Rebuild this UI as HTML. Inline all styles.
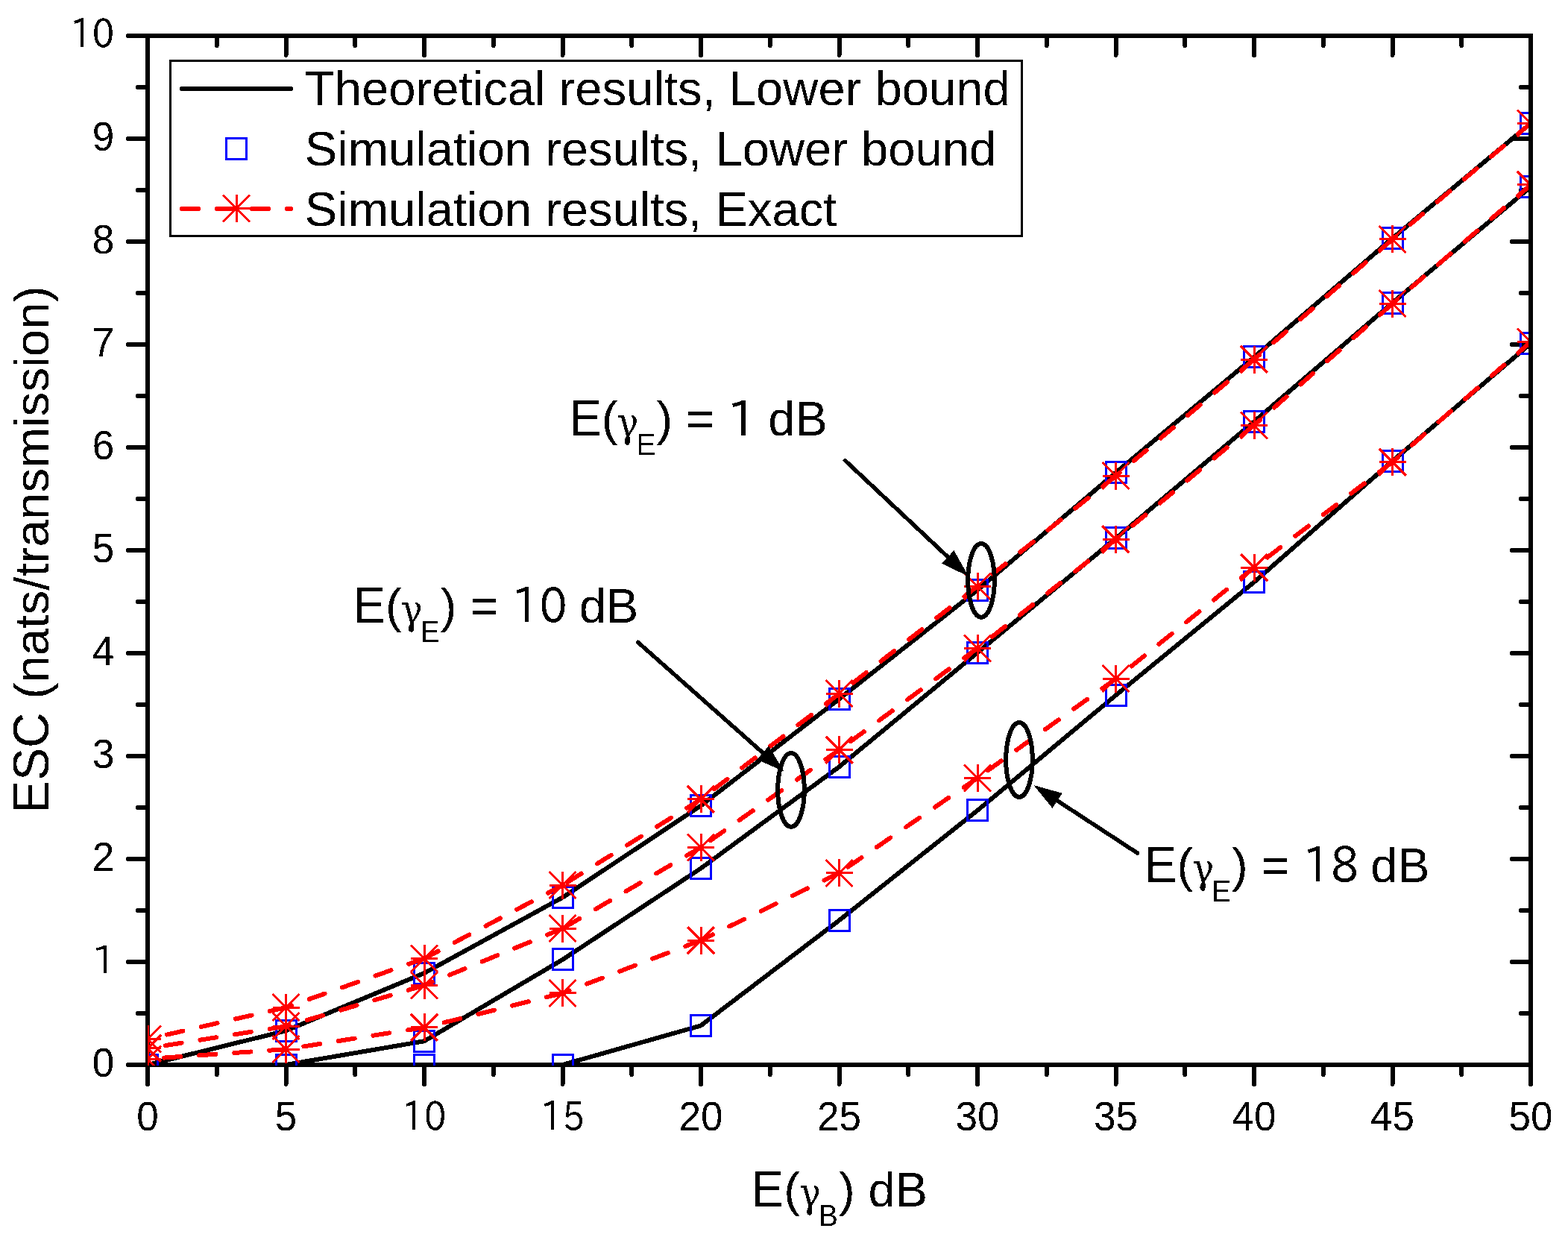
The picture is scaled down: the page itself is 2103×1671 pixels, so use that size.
<!DOCTYPE html>
<html><head><meta charset="utf-8"><title>ESC vs E(gamma_B)</title>
<style>html,body{margin:0;padding:0;background:#fff;} svg{display:block;}</style></head>
<body>
<svg width="2103" height="1671" viewBox="0 0 2103 1671" shape-rendering="crispEdges">
<defs><filter id="al" x="-20%" y="-20%" width="140%" height="140%"><feComponentTransfer><feFuncA type="discrete" tableValues="0 1"/></feComponentTransfer></filter></defs>
<rect width="2103" height="1671" fill="#fff"/>
<g stroke="#000" stroke-width="6" fill="none" stroke-linecap="round">
<line x1="172" y1="1428" x2="198" y2="1428"/>
<line x1="2053" y1="1428" x2="2028" y2="1428"/>
<line x1="185" y1="1359" x2="198" y2="1359"/>
<line x1="2053" y1="1359" x2="2040" y2="1359"/>
<line x1="172" y1="1290" x2="198" y2="1290"/>
<line x1="2053" y1="1290" x2="2028" y2="1290"/>
<line x1="185" y1="1221" x2="198" y2="1221"/>
<line x1="2053" y1="1221" x2="2040" y2="1221"/>
<line x1="172" y1="1152" x2="198" y2="1152"/>
<line x1="2053" y1="1152" x2="2028" y2="1152"/>
<line x1="185" y1="1083" x2="198" y2="1083"/>
<line x1="2053" y1="1083" x2="2040" y2="1083"/>
<line x1="172" y1="1014" x2="198" y2="1014"/>
<line x1="2053" y1="1014" x2="2028" y2="1014"/>
<line x1="185" y1="945" x2="198" y2="945"/>
<line x1="2053" y1="945" x2="2040" y2="945"/>
<line x1="172" y1="876" x2="198" y2="876"/>
<line x1="2053" y1="876" x2="2028" y2="876"/>
<line x1="185" y1="807" x2="198" y2="807"/>
<line x1="2053" y1="807" x2="2040" y2="807"/>
<line x1="172" y1="738" x2="198" y2="738"/>
<line x1="2053" y1="738" x2="2028" y2="738"/>
<line x1="185" y1="669" x2="198" y2="669"/>
<line x1="2053" y1="669" x2="2040" y2="669"/>
<line x1="172" y1="600" x2="198" y2="600"/>
<line x1="2053" y1="600" x2="2028" y2="600"/>
<line x1="185" y1="531" x2="198" y2="531"/>
<line x1="2053" y1="531" x2="2040" y2="531"/>
<line x1="172" y1="462" x2="198" y2="462"/>
<line x1="2053" y1="462" x2="2028" y2="462"/>
<line x1="185" y1="393" x2="198" y2="393"/>
<line x1="2053" y1="393" x2="2040" y2="393"/>
<line x1="172" y1="324" x2="198" y2="324"/>
<line x1="2053" y1="324" x2="2028" y2="324"/>
<line x1="185" y1="255" x2="198" y2="255"/>
<line x1="2053" y1="255" x2="2040" y2="255"/>
<line x1="172" y1="186" x2="198" y2="186"/>
<line x1="2053" y1="186" x2="2028" y2="186"/>
<line x1="185" y1="117" x2="198" y2="117"/>
<line x1="2053" y1="117" x2="2040" y2="117"/>
<line x1="172" y1="48" x2="198" y2="48"/>
<line x1="2053" y1="48" x2="2028" y2="48"/>
<line x1="198" y1="1428" x2="198" y2="1454"/>
<line x1="198" y1="48" x2="198" y2="74"/>
<line x1="290.75" y1="1428" x2="290.75" y2="1441"/>
<line x1="290.75" y1="48" x2="290.75" y2="61"/>
<line x1="383.5" y1="1428" x2="383.5" y2="1454"/>
<line x1="383.5" y1="48" x2="383.5" y2="74"/>
<line x1="476.25" y1="1428" x2="476.25" y2="1441"/>
<line x1="476.25" y1="48" x2="476.25" y2="61"/>
<line x1="569" y1="1428" x2="569" y2="1454"/>
<line x1="569" y1="48" x2="569" y2="74"/>
<line x1="661.75" y1="1428" x2="661.75" y2="1441"/>
<line x1="661.75" y1="48" x2="661.75" y2="61"/>
<line x1="754.5" y1="1428" x2="754.5" y2="1454"/>
<line x1="754.5" y1="48" x2="754.5" y2="74"/>
<line x1="847.25" y1="1428" x2="847.25" y2="1441"/>
<line x1="847.25" y1="48" x2="847.25" y2="61"/>
<line x1="940" y1="1428" x2="940" y2="1454"/>
<line x1="940" y1="48" x2="940" y2="74"/>
<line x1="1032.75" y1="1428" x2="1032.75" y2="1441"/>
<line x1="1032.75" y1="48" x2="1032.75" y2="61"/>
<line x1="1125.5" y1="1428" x2="1125.5" y2="1454"/>
<line x1="1125.5" y1="48" x2="1125.5" y2="74"/>
<line x1="1218.25" y1="1428" x2="1218.25" y2="1441"/>
<line x1="1218.25" y1="48" x2="1218.25" y2="61"/>
<line x1="1311" y1="1428" x2="1311" y2="1454"/>
<line x1="1311" y1="48" x2="1311" y2="74"/>
<line x1="1403.75" y1="1428" x2="1403.75" y2="1441"/>
<line x1="1403.75" y1="48" x2="1403.75" y2="61"/>
<line x1="1496.5" y1="1428" x2="1496.5" y2="1454"/>
<line x1="1496.5" y1="48" x2="1496.5" y2="74"/>
<line x1="1589.25" y1="1428" x2="1589.25" y2="1441"/>
<line x1="1589.25" y1="48" x2="1589.25" y2="61"/>
<line x1="1682" y1="1428" x2="1682" y2="1454"/>
<line x1="1682" y1="48" x2="1682" y2="74"/>
<line x1="1774.75" y1="1428" x2="1774.75" y2="1441"/>
<line x1="1774.75" y1="48" x2="1774.75" y2="61"/>
<line x1="1867.5" y1="1428" x2="1867.5" y2="1454"/>
<line x1="1867.5" y1="48" x2="1867.5" y2="74"/>
<line x1="1960.25" y1="1428" x2="1960.25" y2="1441"/>
<line x1="1960.25" y1="48" x2="1960.25" y2="61"/>
<line x1="2053" y1="1428" x2="2053" y2="1454"/>
<line x1="2053" y1="48" x2="2053" y2="74"/>
</g>
<rect x="198" y="48" width="1855" height="1380" fill="none" stroke="#000" stroke-width="6"/>
<text filter="url(#al)" font-family="'Liberation Sans', Arial, sans-serif" font-size="53" style="white-space:pre"><tspan x="123.82" y="1443.6" font-size="55.12" textLength="29.48" lengthAdjust="spacingAndGlyphs">0</tspan></text>
<text filter="url(#al)" font-family="'Liberation Sans', Arial, sans-serif" font-size="53" style="white-space:pre"><tspan x="123.13" y="1306.11" font-family="IPAPGothic, IPAGothic, 'Liberation Sans', sans-serif" font-size="52.25">1</tspan></text>
<text filter="url(#al)" font-family="'Liberation Sans', Arial, sans-serif" font-size="53" style="white-space:pre"><tspan x="123.82" y="1167.6" font-size="55.12" textLength="29.48" lengthAdjust="spacingAndGlyphs">2</tspan></text>
<text filter="url(#al)" font-family="'Liberation Sans', Arial, sans-serif" font-size="53" style="white-space:pre"><tspan x="123.82" y="1029.6" font-size="55.12" textLength="29.48" lengthAdjust="spacingAndGlyphs">3</tspan></text>
<text filter="url(#al)" font-family="'Liberation Sans', Arial, sans-serif" font-size="53" style="white-space:pre"><tspan x="123.82" y="891.6" font-size="55.12" textLength="29.48" lengthAdjust="spacingAndGlyphs">4</tspan></text>
<text filter="url(#al)" font-family="'Liberation Sans', Arial, sans-serif" font-size="53" style="white-space:pre"><tspan x="123.82" y="753.6" font-size="55.12" textLength="29.48" lengthAdjust="spacingAndGlyphs">5</tspan></text>
<text filter="url(#al)" font-family="'Liberation Sans', Arial, sans-serif" font-size="53" style="white-space:pre"><tspan x="123.82" y="615.6" font-size="55.12" textLength="29.48" lengthAdjust="spacingAndGlyphs">6</tspan></text>
<text filter="url(#al)" font-family="'Liberation Sans', Arial, sans-serif" font-size="53" style="white-space:pre"><tspan x="123.82" y="477.6" font-size="55.12" textLength="29.48" lengthAdjust="spacingAndGlyphs">7</tspan></text>
<text filter="url(#al)" font-family="'Liberation Sans', Arial, sans-serif" font-size="53" style="white-space:pre"><tspan x="123.82" y="339.6" font-size="55.12" textLength="29.48" lengthAdjust="spacingAndGlyphs">8</tspan></text>
<text filter="url(#al)" font-family="'Liberation Sans', Arial, sans-serif" font-size="53" style="white-space:pre"><tspan x="123.82" y="201.6" font-size="55.12" textLength="29.48" lengthAdjust="spacingAndGlyphs">9</tspan></text>
<text filter="url(#al)" font-family="'Liberation Sans', Arial, sans-serif" font-size="53" style="white-space:pre"><tspan x="94.35" y="63.6" font-family="IPAPGothic, IPAGothic, 'Liberation Sans', sans-serif" font-size="52.47" textLength="58.95" lengthAdjust="spacingAndGlyphs">10</tspan></text>
<text filter="url(#al)" font-family="'Liberation Sans', Arial, sans-serif" font-size="53" style="white-space:pre"><tspan x="183.26" y="1515.5" font-size="55.12" textLength="29.48" lengthAdjust="spacingAndGlyphs">0</tspan></text>
<text filter="url(#al)" font-family="'Liberation Sans', Arial, sans-serif" font-size="53" style="white-space:pre"><tspan x="368.76" y="1515.5" font-size="55.12" textLength="29.48" lengthAdjust="spacingAndGlyphs">5</tspan></text>
<text filter="url(#al)" font-family="'Liberation Sans', Arial, sans-serif" font-size="53" style="white-space:pre"><tspan x="539.52" y="1515.5" font-family="IPAPGothic, IPAGothic, 'Liberation Sans', sans-serif" font-size="52.47" textLength="58.95" lengthAdjust="spacingAndGlyphs">10</tspan></text>
<text filter="url(#al)" font-family="'Liberation Sans', Arial, sans-serif" font-size="53" style="white-space:pre"><tspan x="725.02" y="1515.5" font-family="IPAPGothic, IPAGothic, 'Liberation Sans', sans-serif" font-size="52.47" textLength="58.95" lengthAdjust="spacingAndGlyphs">15</tspan></text>
<text filter="url(#al)" font-family="'Liberation Sans', Arial, sans-serif" font-size="53" style="white-space:pre"><tspan x="910.52" y="1515.5" font-size="55.12" textLength="58.95" lengthAdjust="spacingAndGlyphs">20</tspan></text>
<text filter="url(#al)" font-family="'Liberation Sans', Arial, sans-serif" font-size="53" style="white-space:pre"><tspan x="1096.02" y="1515.5" font-size="55.12" textLength="58.95" lengthAdjust="spacingAndGlyphs">25</tspan></text>
<text filter="url(#al)" font-family="'Liberation Sans', Arial, sans-serif" font-size="53" style="white-space:pre"><tspan x="1281.52" y="1515.5" font-size="55.12" textLength="58.95" lengthAdjust="spacingAndGlyphs">30</tspan></text>
<text filter="url(#al)" font-family="'Liberation Sans', Arial, sans-serif" font-size="53" style="white-space:pre"><tspan x="1467.02" y="1515.5" font-size="55.12" textLength="58.95" lengthAdjust="spacingAndGlyphs">35</tspan></text>
<text filter="url(#al)" font-family="'Liberation Sans', Arial, sans-serif" font-size="53" style="white-space:pre"><tspan x="1652.52" y="1515.5" font-size="55.12" textLength="58.95" lengthAdjust="spacingAndGlyphs">40</tspan></text>
<text filter="url(#al)" font-family="'Liberation Sans', Arial, sans-serif" font-size="53" style="white-space:pre"><tspan x="1838.02" y="1515.5" font-size="55.12" textLength="58.95" lengthAdjust="spacingAndGlyphs">45</tspan></text>
<text filter="url(#al)" font-family="'Liberation Sans', Arial, sans-serif" font-size="53" style="white-space:pre"><tspan x="2023.52" y="1515.5" font-size="55.12" textLength="58.95" lengthAdjust="spacingAndGlyphs">50</tspan></text>
<defs><clipPath id="cp"><rect x="198" y="40" width="1852" height="1389"/></clipPath>
</defs>
<g clip-path="url(#cp)">
<polyline points="198,1428 383.5,1382.32 569,1305.04 754.5,1203.61 940,1080.52 1125.5,937.41 1311,791.27 1496.5,633.81 1682,478.97 1867.5,319.58 2053,165.44" fill="none" stroke="#000" stroke-width="6" stroke-linejoin="round"/>
<polyline points="198,1428 383.5,1428 569,1396.26 754.5,1286.96 940,1164.56 1125.5,1028.35 1311,875.17 1496.5,721.99 1682,565.36 1867.5,406.11 2053,250.58" fill="none" stroke="#000" stroke-width="6" stroke-linejoin="round"/>
<polyline points="198,1428 383.5,1428 569,1428 754.5,1428 940,1375.42 1125.5,1234.25 1311,1086.86 1496.5,932.44 1682,780.64 1867.5,618.35 2053,460.62" fill="none" stroke="#000" stroke-width="6" stroke-linejoin="round"/>
<rect x="184.5" y="1414" width="27" height="28" fill="none" stroke="#00f" stroke-width="3"/>
<rect x="370" y="1368.32" width="27" height="28" fill="none" stroke="#00f" stroke-width="3"/>
<rect x="555.5" y="1291.04" width="27" height="28" fill="none" stroke="#00f" stroke-width="3"/>
<rect x="741" y="1189.61" width="27" height="28" fill="none" stroke="#00f" stroke-width="3"/>
<rect x="926.5" y="1066.52" width="27" height="28" fill="none" stroke="#00f" stroke-width="3"/>
<rect x="1112" y="923.41" width="27" height="28" fill="none" stroke="#00f" stroke-width="3"/>
<rect x="1297.5" y="777.27" width="27" height="28" fill="none" stroke="#00f" stroke-width="3"/>
<rect x="1483" y="619.81" width="27" height="28" fill="none" stroke="#00f" stroke-width="3"/>
<rect x="1668.5" y="464.97" width="27" height="28" fill="none" stroke="#00f" stroke-width="3"/>
<rect x="1854" y="305.58" width="27" height="28" fill="none" stroke="#00f" stroke-width="3"/>
<rect x="2039.5" y="151.44" width="27" height="28" fill="none" stroke="#00f" stroke-width="3"/>
<rect x="184.5" y="1414" width="27" height="28" fill="none" stroke="#00f" stroke-width="3"/>
<rect x="370" y="1414" width="27" height="28" fill="none" stroke="#00f" stroke-width="3"/>
<rect x="555.5" y="1382.26" width="27" height="28" fill="none" stroke="#00f" stroke-width="3"/>
<rect x="741" y="1272.96" width="27" height="28" fill="none" stroke="#00f" stroke-width="3"/>
<rect x="926.5" y="1150.56" width="27" height="28" fill="none" stroke="#00f" stroke-width="3"/>
<rect x="1112" y="1014.35" width="27" height="28" fill="none" stroke="#00f" stroke-width="3"/>
<rect x="1297.5" y="861.17" width="27" height="28" fill="none" stroke="#00f" stroke-width="3"/>
<rect x="1483" y="707.99" width="27" height="28" fill="none" stroke="#00f" stroke-width="3"/>
<rect x="1668.5" y="551.36" width="27" height="28" fill="none" stroke="#00f" stroke-width="3"/>
<rect x="1854" y="392.11" width="27" height="28" fill="none" stroke="#00f" stroke-width="3"/>
<rect x="2039.5" y="236.58" width="27" height="28" fill="none" stroke="#00f" stroke-width="3"/>
<rect x="184.5" y="1414" width="27" height="28" fill="none" stroke="#00f" stroke-width="3"/>
<rect x="370" y="1414" width="27" height="28" fill="none" stroke="#00f" stroke-width="3"/>
<rect x="555.5" y="1414" width="27" height="28" fill="none" stroke="#00f" stroke-width="3"/>
<rect x="741" y="1414" width="27" height="28" fill="none" stroke="#00f" stroke-width="3"/>
<rect x="926.5" y="1361.42" width="27" height="28" fill="none" stroke="#00f" stroke-width="3"/>
<rect x="1112" y="1220.25" width="27" height="28" fill="none" stroke="#00f" stroke-width="3"/>
<rect x="1297.5" y="1072.86" width="27" height="28" fill="none" stroke="#00f" stroke-width="3"/>
<rect x="1483" y="918.44" width="27" height="28" fill="none" stroke="#00f" stroke-width="3"/>
<rect x="1668.5" y="766.64" width="27" height="28" fill="none" stroke="#00f" stroke-width="3"/>
<rect x="1854" y="604.35" width="27" height="28" fill="none" stroke="#00f" stroke-width="3"/>
<rect x="2039.5" y="446.62" width="27" height="28" fill="none" stroke="#00f" stroke-width="3"/>
<g fill="none" stroke="#f00" stroke-width="6" stroke-linecap="round" stroke-dasharray="22.2 25">
<path d="M383.5,1351L198,1393.5"/>
<path d="M569,1285.45L383.5,1351"/>
<path d="M754.5,1187.19L569,1285.45"/>
<path d="M940,1071.96L754.5,1187.19"/>
<path d="M1125.5,930.23L940,1071.96"/>
<path d="M1311,786.16L1125.5,930.23"/>
<path d="M1496.5,638.36L1311,786.16"/>
<path d="M1682,482.01L1496.5,638.36"/>
<path d="M1867.5,320.96L1682,482.01"/>
<path d="M2053,165.44L1867.5,320.96"/>
<path d="M383.5,1376.39L198,1405.92"/>
<path d="M569,1321.46L383.5,1376.39"/>
<path d="M754.5,1245.29L569,1321.46"/>
<path d="M940,1136.27L754.5,1245.29"/>
<path d="M1125.5,1005.58L940,1136.27"/>
<path d="M1311,869.24L1125.5,1005.58"/>
<path d="M1496.5,723.51L1311,869.24"/>
<path d="M1682,570.19L1496.5,723.51"/>
<path d="M1867.5,407.35L1682,570.19"/>
<path d="M2053,247.96L1867.5,407.35"/>
<path d="M383.5,1407.16L198,1420.13"/>
<path d="M569,1377.91L383.5,1407.16"/>
<path d="M754.5,1331.95L569,1377.91"/>
<path d="M940,1261.02L754.5,1331.95"/>
<path d="M1125.5,1170.77L940,1261.02"/>
<path d="M1311,1043.26L1125.5,1170.77"/>
<path d="M1496.5,910.36L1311,1043.26"/>
<path d="M1682,761.05L1496.5,910.36"/>
<path d="M1867.5,619.6L1682,761.05"/>
<path d="M2053,458.55L1867.5,619.6"/>
</g>
<path d="M180,1393.5H216M198,1375V1412M180,1375.5L216,1411.5M180,1411.5L216,1375.5" stroke="#f00" stroke-width="3" fill="none"/>
<path d="M365.5,1351H401.5M383.5,1332.5V1369.5M365.5,1333L401.5,1369M365.5,1369L401.5,1333" stroke="#f00" stroke-width="3" fill="none"/>
<path d="M551,1285.45H587M569,1266.95V1303.95M551,1267.45L587,1303.45M551,1303.45L587,1267.45" stroke="#f00" stroke-width="3" fill="none"/>
<path d="M736.5,1187.19H772.5M754.5,1168.69V1205.69M736.5,1169.19L772.5,1205.19M736.5,1205.19L772.5,1169.19" stroke="#f00" stroke-width="3" fill="none"/>
<path d="M922,1071.96H958M940,1053.46V1090.46M922,1053.96L958,1089.96M922,1089.96L958,1053.96" stroke="#f00" stroke-width="3" fill="none"/>
<path d="M1107.5,930.23H1143.5M1125.5,911.73V948.73M1107.5,912.23L1143.5,948.23M1107.5,948.23L1143.5,912.23" stroke="#f00" stroke-width="3" fill="none"/>
<path d="M1293,786.16H1329M1311,767.66V804.66M1293,768.16L1329,804.16M1293,804.16L1329,768.16" stroke="#f00" stroke-width="3" fill="none"/>
<path d="M1478.5,638.36H1514.5M1496.5,619.86V656.86M1478.5,620.36L1514.5,656.36M1478.5,656.36L1514.5,620.36" stroke="#f00" stroke-width="3" fill="none"/>
<path d="M1664,482.01H1700M1682,463.51V500.51M1664,464.01L1700,500.01M1664,500.01L1700,464.01" stroke="#f00" stroke-width="3" fill="none"/>
<path d="M1849.5,320.96H1885.5M1867.5,302.46V339.46M1849.5,302.96L1885.5,338.96M1849.5,338.96L1885.5,302.96" stroke="#f00" stroke-width="3" fill="none"/>
<path d="M2035,165.44H2071M2053,146.94V183.94M2035,147.44L2071,183.44M2035,183.44L2071,147.44" stroke="#f00" stroke-width="3" fill="none"/>
<path d="M180,1405.92H216M198,1387.42V1424.42M180,1387.92L216,1423.92M180,1423.92L216,1387.92" stroke="#f00" stroke-width="3" fill="none"/>
<path d="M365.5,1376.39H401.5M383.5,1357.89V1394.89M365.5,1358.39L401.5,1394.39M365.5,1394.39L401.5,1358.39" stroke="#f00" stroke-width="3" fill="none"/>
<path d="M551,1321.46H587M569,1302.96V1339.96M551,1303.46L587,1339.46M551,1339.46L587,1303.46" stroke="#f00" stroke-width="3" fill="none"/>
<path d="M736.5,1245.29H772.5M754.5,1226.79V1263.79M736.5,1227.29L772.5,1263.29M736.5,1263.29L772.5,1227.29" stroke="#f00" stroke-width="3" fill="none"/>
<path d="M922,1136.27H958M940,1117.77V1154.77M922,1118.27L958,1154.27M922,1154.27L958,1118.27" stroke="#f00" stroke-width="3" fill="none"/>
<path d="M1107.5,1005.58H1143.5M1125.5,987.08V1024.08M1107.5,987.58L1143.5,1023.58M1107.5,1023.58L1143.5,987.58" stroke="#f00" stroke-width="3" fill="none"/>
<path d="M1293,869.24H1329M1311,850.74V887.74M1293,851.24L1329,887.24M1293,887.24L1329,851.24" stroke="#f00" stroke-width="3" fill="none"/>
<path d="M1478.5,723.51H1514.5M1496.5,705.01V742.01M1478.5,705.51L1514.5,741.51M1478.5,741.51L1514.5,705.51" stroke="#f00" stroke-width="3" fill="none"/>
<path d="M1664,570.19H1700M1682,551.69V588.69M1664,552.19L1700,588.19M1664,588.19L1700,552.19" stroke="#f00" stroke-width="3" fill="none"/>
<path d="M1849.5,407.35H1885.5M1867.5,388.85V425.85M1849.5,389.35L1885.5,425.35M1849.5,425.35L1885.5,389.35" stroke="#f00" stroke-width="3" fill="none"/>
<path d="M2035,247.96H2071M2053,229.46V266.46M2035,229.96L2071,265.96M2035,265.96L2071,229.96" stroke="#f00" stroke-width="3" fill="none"/>
<path d="M180,1420.13H216M198,1401.63V1438.63M180,1402.13L216,1438.13M180,1438.13L216,1402.13" stroke="#f00" stroke-width="3" fill="none"/>
<path d="M365.5,1407.16H401.5M383.5,1388.66V1425.66M365.5,1389.16L401.5,1425.16M365.5,1425.16L401.5,1389.16" stroke="#f00" stroke-width="3" fill="none"/>
<path d="M551,1377.91H587M569,1359.41V1396.41M551,1359.91L587,1395.91M551,1395.91L587,1359.91" stroke="#f00" stroke-width="3" fill="none"/>
<path d="M736.5,1331.95H772.5M754.5,1313.45V1350.45M736.5,1313.95L772.5,1349.95M736.5,1349.95L772.5,1313.95" stroke="#f00" stroke-width="3" fill="none"/>
<path d="M922,1261.02H958M940,1242.52V1279.52M922,1243.02L958,1279.02M922,1279.02L958,1243.02" stroke="#f00" stroke-width="3" fill="none"/>
<path d="M1107.5,1170.77H1143.5M1125.5,1152.27V1189.27M1107.5,1152.77L1143.5,1188.77M1107.5,1188.77L1143.5,1152.77" stroke="#f00" stroke-width="3" fill="none"/>
<path d="M1293,1043.26H1329M1311,1024.76V1061.76M1293,1025.26L1329,1061.26M1293,1061.26L1329,1025.26" stroke="#f00" stroke-width="3" fill="none"/>
<path d="M1478.5,910.36H1514.5M1496.5,891.86V928.86M1478.5,892.36L1514.5,928.36M1478.5,928.36L1514.5,892.36" stroke="#f00" stroke-width="3" fill="none"/>
<path d="M1664,761.05H1700M1682,742.55V779.55M1664,743.05L1700,779.05M1664,779.05L1700,743.05" stroke="#f00" stroke-width="3" fill="none"/>
<path d="M1849.5,619.6H1885.5M1867.5,601.1V638.1M1849.5,601.6L1885.5,637.6M1849.5,637.6L1885.5,601.6" stroke="#f00" stroke-width="3" fill="none"/>
<path d="M2035,458.55H2071M2053,440.05V477.05M2035,440.55L2071,476.55M2035,476.55L2071,440.55" stroke="#f00" stroke-width="3" fill="none"/>
</g>
<ellipse cx="1316" cy="778.3" rx="17.8" ry="49.4" fill="none" stroke="#000" stroke-width="6"/>
<ellipse cx="1061" cy="1059.4" rx="17.8" ry="49.4" fill="none" stroke="#000" stroke-width="6"/>
<ellipse cx="1367" cy="1018.9" rx="17.8" ry="50" fill="none" stroke="#000" stroke-width="6"/>
<line x1="1133.4" y1="617.5" x2="1272.76" y2="748.36" stroke="#000" stroke-width="5.5" stroke-linecap="round"/>
<polygon points="1299,773 1263.08,755.74 1279.51,738.24" fill="#000"/>
<line x1="855.6" y1="861.3" x2="1024.54" y2="1010.84" stroke="#000" stroke-width="5.5" stroke-linecap="round"/>
<polygon points="1051.5,1034.7 1015.09,1018.5 1031,1000.53" fill="#000"/>
<line x1="1525.4" y1="1144" x2="1416.43" y2="1072.71" stroke="#000" stroke-width="5.5" stroke-linecap="round"/>
<polygon points="1386.3,1053 1424.67,1063.76 1411.53,1083.85" fill="#000"/>
<text filter="url(#al)" font-family="'Liberation Sans', Arial, sans-serif" font-size="65.2" style="white-space:pre"><tspan x="763.3" y="584.3" font-size="67.81" textLength="43.49" lengthAdjust="spacingAndGlyphs">E</tspan><tspan x="806.79" y="584.3" font-size="65.2">(</tspan><tspan x="827.2" y="585.5" font-family="'DejaVu Serif', 'Liberation Serif', serif" font-size="54.9" textLength="29.2" lengthAdjust="spacingAndGlyphs">γ</tspan><tspan x="853.6" y="610.3" font-size="40.25" textLength="25.81" lengthAdjust="spacingAndGlyphs">E</tspan><tspan x="880.4" y="584.3" font-size="65">) = </tspan><tspan x="975.27" y="584.93" font-family="IPAPGothic, IPAGothic, 'Liberation Sans', sans-serif" font-size="64.09">1 </tspan><tspan x="1030.33" y="584.3" font-size="65">dB</tspan></text>
<text filter="url(#al)" font-family="'Liberation Sans', Arial, sans-serif" font-size="65.2" style="white-space:pre"><tspan x="473.6" y="835.4" font-size="67.81" textLength="43.49" lengthAdjust="spacingAndGlyphs">E</tspan><tspan x="517.09" y="835.4" font-size="65.2">(</tspan><tspan x="537.5" y="836.6" font-family="'DejaVu Serif', 'Liberation Serif', serif" font-size="54.9" textLength="29.2" lengthAdjust="spacingAndGlyphs">γ</tspan><tspan x="563.9" y="861.4" font-size="40.25" textLength="25.81" lengthAdjust="spacingAndGlyphs">E</tspan><tspan x="590.7" y="835.4" font-size="65">) = </tspan><tspan x="686.42" y="835.4" font-family="IPAPGothic, IPAGothic, 'Liberation Sans', sans-serif" font-size="64.35" textLength="90.36" lengthAdjust="spacingAndGlyphs">10 </tspan><tspan x="776.78" y="835.4" font-size="65">dB</tspan></text>
<text filter="url(#al)" font-family="'Liberation Sans', Arial, sans-serif" font-size="65.2" style="white-space:pre"><tspan x="1535" y="1182.5" font-size="67.81" textLength="43.49" lengthAdjust="spacingAndGlyphs">E</tspan><tspan x="1578.49" y="1182.5" font-size="65.2">(</tspan><tspan x="1598.9" y="1183.7" font-family="'DejaVu Serif', 'Liberation Serif', serif" font-size="54.9" textLength="29.2" lengthAdjust="spacingAndGlyphs">γ</tspan><tspan x="1625.3" y="1208.5" font-size="40.25" textLength="25.81" lengthAdjust="spacingAndGlyphs">E</tspan><tspan x="1652.1" y="1182.5" font-size="65">) = </tspan><tspan x="1747.82" y="1182.5" font-family="IPAPGothic, IPAGothic, 'Liberation Sans', sans-serif" font-size="64.35" textLength="90.36" lengthAdjust="spacingAndGlyphs">18 </tspan><tspan x="1838.18" y="1182.5" font-size="65">dB</tspan></text>
<text filter="url(#al)" font-family="'Liberation Sans', Arial, sans-serif" font-size="65.2" style="white-space:pre"><tspan x="1007.8" y="1617.7" font-size="67.81" textLength="43.49" lengthAdjust="spacingAndGlyphs">E</tspan><tspan x="1051.29" y="1617.7" font-size="65.2">(</tspan><tspan x="1071.7" y="1618.9" font-family="'DejaVu Serif', 'Liberation Serif', serif" font-size="54.9" textLength="29.2" lengthAdjust="spacingAndGlyphs">γ</tspan><tspan x="1098.1" y="1643.7" font-size="40.25" textLength="25.81" lengthAdjust="spacingAndGlyphs">B</tspan><tspan x="1124.9" y="1617.7" font-size="65">) dB</tspan></text>
<g transform="translate(65,737) rotate(-90)">
<text filter="url(#al)" font-family="'Liberation Sans', Arial, sans-serif" font-size="65.6" style="white-space:pre"><tspan x="-353.61" y="0" font-size="68.22" textLength="153.11" lengthAdjust="spacingAndGlyphs">ESC </tspan><tspan x="-200.5" y="0" font-size="65.6">(nats/transmission)</tspan></text>
</g>
<rect x="228" y="81.5" width="1142.5" height="235" fill="#fff" stroke="#000" stroke-width="3"/>
<line x1="244" y1="119" x2="390" y2="119" stroke="#000" stroke-width="6" stroke-linecap="round"/>
<rect x="303.5" y="185.5" width="27" height="28" fill="none" stroke="#00f" stroke-width="3"/>
<line x1="244" y1="280" x2="390" y2="280" stroke="#f00" stroke-width="6" stroke-linecap="round" stroke-dasharray="22 25"/>
<path d="M299,279.5H335M317,261V298M299,261.5L335,297.5M299,297.5L335,261.5" stroke="#f00" stroke-width="3" fill="none"/>
<text filter="url(#al)" font-family="'Liberation Sans', Arial, sans-serif" font-size="65.2" style="white-space:pre"><tspan x="409" y="140.8" font-size="65.2">Theoretical results, Lower bound</tspan></text>
<text filter="url(#al)" font-family="'Liberation Sans', Arial, sans-serif" font-size="65.2" style="white-space:pre"><tspan x="408.7" y="222" font-size="65.2">Simulation results, Lower bound</tspan></text>
<text filter="url(#al)" font-family="'Liberation Sans', Arial, sans-serif" font-size="65.2" style="white-space:pre"><tspan x="408.7" y="302.5" font-size="65.2">Simulation results, Exact</tspan></text>
</svg>
</body></html>
